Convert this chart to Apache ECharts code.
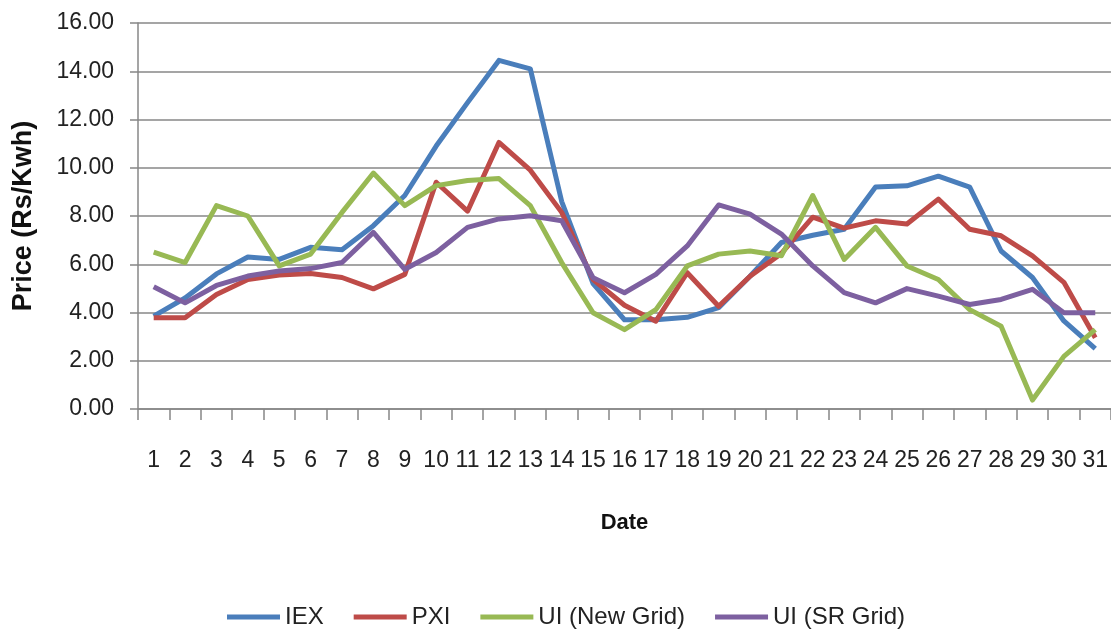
<!DOCTYPE html>
<html>
<head>
<meta charset="utf-8">
<title>Price chart</title>
<script src="https://cdn.jsdelivr.net/npm/echarts@6/dist/echarts.min.js"></script>
<style>
  html, body { margin: 0; padding: 0; background: #fff; }
  #main { width: 1111px; height: 630px; }
</style>
</head>
<body>
<div id="main"></div>
<script>
// dates 1..31
var days = ['1','2','3','4','5','6','7','8','9','10','11','12','13','14','15','16',
  '17','18','19','20','21','22','23','24','25','26','27','28','29','30','31']

var iex = [3.85, 4.6, 5.6, 6.3, 6.2, 6.7, 6.6, 7.6, 8.85, 10.9, 12.7, 14.45, 14.1, 8.6, 5.2, 3.7,
  3.7, 3.8, 4.2, 5.5, 6.9, 7.2, 7.45, 9.2, 9.25, 9.65, 9.2, 6.55, 5.45, 3.65, 2.5]
var pxi = [3.78, 3.78, 4.75, 5.37, 5.55, 5.62, 5.45, 4.98, 5.58, 9.4, 8.2, 11.05, 9.9, 8.15, 5.37, 4.3,
  3.64, 5.65, 4.26, 5.5, 6.45, 7.95, 7.5, 7.8, 7.67, 8.7, 7.45, 7.18, 6.35, 5.25, 2.95]
var uiNew = [6.5, 6.07, 8.43, 8.0, 5.93, 6.42, 8.15, 9.78, 8.43, 9.26, 9.47, 9.55, 8.43, 6.07, 3.99, 3.29,
  4.12, 5.93, 6.42, 6.55, 6.35, 8.85, 6.2, 7.53, 5.93, 5.37, 4.12, 3.43, 0.37, 2.18, 3.29]
var uiSr = [5.07, 4.4, 5.12, 5.51, 5.72, 5.82, 6.07, 7.32, 5.79, 6.49, 7.53, 7.88, 8.01, 7.8, 5.44, 4.82,
  5.58, 6.76, 8.46, 8.08, 7.25, 5.93, 4.82, 4.4, 4.99, 4.68, 4.33, 4.54, 4.96, 3.99, 3.99]

var seriesNames = ['IEX', 'PXI', 'UI (New Grid)', 'UI (SR Grid)']
var colors = ['#4A7EBB', '#BE4B48', '#98B954', '#7D60A0']

// y axis
var yMin = 0
var yMax = 16
var yStep = 2

var font = '"Liberation Sans", Arial, sans-serif'
var gridGray = '#878787'

var chart = echarts.init(document.getElementById('main'), null, { renderer: 'canvas' })

function line(name, data, color) {
  return {
    name: name,
    type: 'line',
    data: data,
    symbol: 'none',
    smooth: false,
    lineStyle: { color: color, width: 5, join: 'round' },
    itemStyle: { color: color }
  }
}

var option = {
  animation: false,
  backgroundColor: '#fff',
  grid: {
    left: 138,
    top: 23,
    width: 976,
    bottom: 221,
    containLabel: false
  },
  legend: {
    left: 222,
    top: 600,
    icon: 'rect',
    itemWidth: 53,
    itemHeight: 5,
    itemGap: 30,
    data: seriesNames,
    textStyle: { fontFamily: font, fontSize: 24, color: '#222' }
  },
  xAxis: {
    type: 'category',
    data: days,
    boundaryGap: true,
    name: 'Date',
    nameLocation: 'middle',
    nameGap: 103,
    nameTextStyle: { fontFamily: font, fontWeight: 'bold', fontSize: 22, color: '#111' },
    axisLine: { lineStyle: { color: gridGray, width: 1.5 } },
    axisTick: { show: true, length: 11, lineStyle: { color: gridGray, width: 1.5 } },
    axisLabel: {
      interval: 0,
      margin: 40,
      fontFamily: font,
      fontSize: 23,
      color: '#222'
    },
    splitLine: { show: false }
  },
  yAxis: {
    type: 'value',
    min: yMin,
    max: yMax,
    interval: yStep,
    name: 'Price (Rs/Kwh)',
    nameLocation: 'middle',
    nameGap: 101,
    nameTextStyle: { fontFamily: font, fontWeight: 'bold', fontSize: 27, color: '#111' },
    axisLine: { show: true, lineStyle: { color: gridGray, width: 1.5 } },
    axisTick: { show: true, inside: false, length: 8, lineStyle: { color: gridGray, width: 1.5 } },
    axisLabel: {
      margin: 24,
      fontFamily: font,
      fontSize: 23,
      color: '#222',
      formatter: function (v) { return v.toFixed(2) }
    },
    splitLine: { show: true, lineStyle: { color: gridGray, width: 1.5 } }
  },
  series: [
    line(seriesNames[0], iex, colors[0]),
    line(seriesNames[1], pxi, colors[1]),
    line(seriesNames[2], uiNew, colors[2]),
    line(seriesNames[3], uiSr, colors[3])
  ]
}

chart.setOption(option)
</script>
</body>
</html>
